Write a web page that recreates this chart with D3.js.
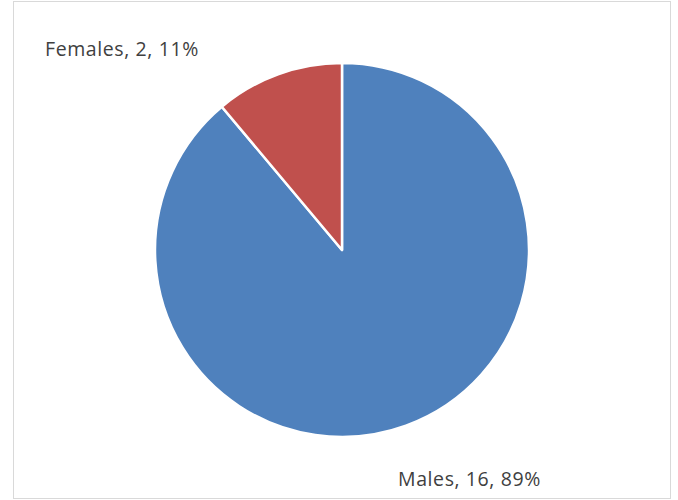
<!DOCTYPE html>
<html><head><meta charset="utf-8">
<script src="https://cdn.jsdelivr.net/npm/d3@7"></script>
<style>body{margin:0;background:#fff}</style>
</head><body>
<script>
const categories = ["Males", "Females"];
const values = [16, 2];
const percents = ["89%", "11%"];
const colors = ["#4F81BD", "#C0504D"];

const W = 678, H = 500;
const svg = d3.select("body").append("svg").attr("width", W).attr("height", H);
svg.append("rect").attr("x", 13.5).attr("y", 1.5).attr("width", 657).attr("height", 497)
  .attr("fill", "#fff").attr("stroke", "#d9d9d9").attr("stroke-width", 1);

const cx = 342, cy = 250, r = 187;
const pie = d3.pie().sort(null).value(d => d.v);
const data = categories.map((c, i) => ({c, v: values[i], p: percents[i], col: colors[i]}));
const arcs = pie(data);
const arc = d3.arc().innerRadius(0).outerRadius(r);
const g = svg.append("g").attr("transform", `translate(${cx},${cy})`);
g.selectAll("path").data(arcs).enter().append("path")
  .attr("d", arc).attr("fill", d => d.data.col)
  .attr("stroke", "#fff").attr("stroke-width", 2.5).attr("stroke-linejoin", "round");

const labelPos = {"Females": [45, 55.5, "start"], "Males": [398, 486, "start"]};
svg.selectAll("text.lbl").data(arcs).enter().append("text")
  .attr("class", "lbl")
  .attr("x", d => labelPos[d.data.c][0]).attr("y", d => labelPos[d.data.c][1])
  .attr("text-anchor", d => labelPos[d.data.c][2])
  .attr("font-family", "'Open Sans', sans-serif").attr("font-size", 19.5)
  .attr("letter-spacing", 0.6)
  .attr("fill", "#404040")
  .text(d => `${d.data.c}, ${d.data.v}, ${d.data.p}`);
</script>
</body></html>
